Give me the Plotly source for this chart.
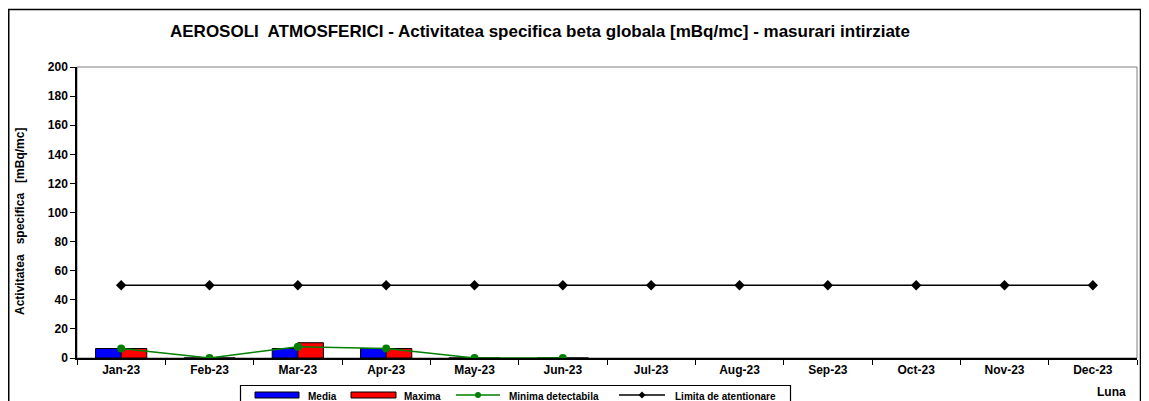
import plotly.graph_objects as go

months = ["Jan-23", "Feb-23", "Mar-23", "Apr-23", "May-23", "Jun-23",
          "Jul-23", "Aug-23", "Sep-23", "Oct-23", "Nov-23", "Dec-23"]
media = [6.5, 0, 6.5, 6.5, 0, 0, None, None, None, None, None, None]
maxima = [6.5, 0, 10.5, 6.5, 0, 0, None, None, None, None, None, None]
minima_det = [6.6, 0, 7.8, 6.6, 0, 0, None, None, None, None, None, None]
limita = [50] * 12
y_ticks = list(range(0, 201, 20))
series_names = ["Media", "Maxima", "Minima detectabila", "Limita de atentionare"]
series_colors = ["#0000FF", "#FF0000", "#008000", "black"]

FONT = "Liberation Sans, Arial, sans-serif"

fig = go.Figure()
fig.add_trace(go.Bar(x=months, y=media, name=series_names[0],
                     marker=dict(color=series_colors[0], line=dict(color="black", width=1))))
fig.add_trace(go.Bar(x=months, y=maxima, name=series_names[1],
                     marker=dict(color=series_colors[1], line=dict(color="black", width=1))))
fig.add_trace(go.Scatter(x=months, y=minima_det, name=series_names[2], mode="lines+markers",
                         line=dict(color=series_colors[2], width=1.5),
                         marker=dict(color=series_colors[2], size=8, symbol="circle")))
fig.add_trace(go.Scatter(x=months, y=limita, name=series_names[3], mode="lines+markers",
                         line=dict(color=series_colors[3], width=1.5),
                         marker=dict(color=series_colors[3], size=8, symbol="diamond")))

# page has an 8px body margin: figure origin sits at page (8, 8)
OFF = 8
W, H = 1149 - OFF, 401 - OFF
L, R, T, B = 77 - OFF, 12, 67 - OFF, 43
pw, ph = W - L - R, H - T - B

def px(x):  # page pixel -> paper x
    return (x - OFF - L) / pw

def py(y):  # page pixel -> paper y
    return (H - B - (y - OFF)) / ph

shapes = [
    dict(type="rect", xref="paper", yref="paper", x0=0, x1=1, y0=0, y1=1,
         line=dict(color="#808080", width=1), layer="below"),
    dict(type="rect", xref="paper", yref="paper", x0=px(8.75), x1=px(1140.5), y0=py(9.5), y1=py(420),
         line=dict(color="black", width=1.5), layer="below"),
    # legend box
    dict(type="rect", xref="paper", yref="paper", x0=px(240.5), x1=px(790.5), y0=py(385.5), y1=py(420),
         line=dict(color="black", width=1.2), fillcolor="white", layer="above"),
]
annotations = [
    dict(text="AEROSOLI  ATMOSFERICI - Activitatea specifica beta globala [mBq/mc] - masurari intirziate",
         xref="paper", yref="paper", x=px(540), y=py(32), xanchor="center", yanchor="middle",
         showarrow=False, font=dict(size=17, family=FONT, weight="bold")),
    dict(text="Activitatea   specifica   [mBq/mc]", textangle=-90,
         xref="paper", yref="paper", x=px(20), y=py(222), xanchor="center", yanchor="middle",
         showarrow=False, font=dict(size=12, family=FONT, weight="bold")),
    dict(text="Luna", xref="paper", yref="paper", x=px(1111), y=py(392), xanchor="center", yanchor="middle",
         showarrow=False, font=dict(size=12, family=FONT, weight="bold")),
]

# manual legend (symbol x-range, text x-start), page pixels
leg_sym = [(255, 299), (351, 396), (456, 500), (619, 665)]
leg_txt = [306, 402, 507, 673]
ly = 395
for i, name in enumerate(series_names):
    x0, x1 = leg_sym[i]
    if i < 2:
        shapes.append(dict(type="rect", xref="paper", yref="paper", x0=px(x0), x1=px(x1),
                           y0=py(ly + 3), y1=py(ly - 3), fillcolor=series_colors[i],
                           line=dict(color="black", width=1), layer="above"))
    else:
        shapes.append(dict(type="line", xref="paper", yref="paper", x0=px(x0), x1=px(x1),
                           y0=py(ly), y1=py(ly), line=dict(color=series_colors[i], width=1.5), layer="above"))
        cx = (x0 + x1) / 2
        if i == 2:
            shapes.append(dict(type="circle", xref="paper", yref="paper", x0=px(cx - 3), x1=px(cx + 3),
                               y0=py(ly + 3), y1=py(ly - 3), fillcolor=series_colors[i],
                               line=dict(color=series_colors[i], width=0), layer="above"))
        else:
            shapes.append(dict(type="path", xref="paper", yref="paper",
                               path=f"M {px(cx - 3.5)} {py(ly)} L {px(cx)} {py(ly - 3.5)} L {px(cx + 3.5)} {py(ly)} L {px(cx)} {py(ly + 3.5)} Z",
                               fillcolor=series_colors[i], line=dict(color=series_colors[i], width=0), layer="above"))
    annotations.append(dict(text=name, xref="paper", yref="paper", x=px(leg_txt[i]), y=py(ly + 1),
                            xanchor="left", yanchor="middle", showarrow=False,
                            font=dict(size=10, family=FONT, weight="bold")))

fig.update_layout(
    width=W, height=H,
    margin=dict(l=L, r=R, t=T, b=B, autoexpand=False),
    paper_bgcolor="white", plot_bgcolor="white",
    font=dict(family=FONT, color="black", size=12),
    barmode="group", bargap=0.42, bargroupgap=0,
    showlegend=False,
    xaxis=dict(type="category", tickson="boundaries", ticks="outside", ticklen=5, tickcolor="black",
               showline=True, linecolor="black", linewidth=1.5, showgrid=False, automargin=False,
               tickfont=dict(size=12, family=FONT, weight="bold"), range=[-0.5, 11.5]),
    yaxis=dict(range=[0, 200], tickvals=y_ticks, ticks="outside", ticklen=5, tickcolor="black",
               showline=True, linecolor="black", linewidth=1.5, showgrid=False, zeroline=False,
               automargin=False, tickfont=dict(size=12, family=FONT, weight="bold")),
    shapes=shapes,
    annotations=annotations,
)

fig.write_html("out.html")
